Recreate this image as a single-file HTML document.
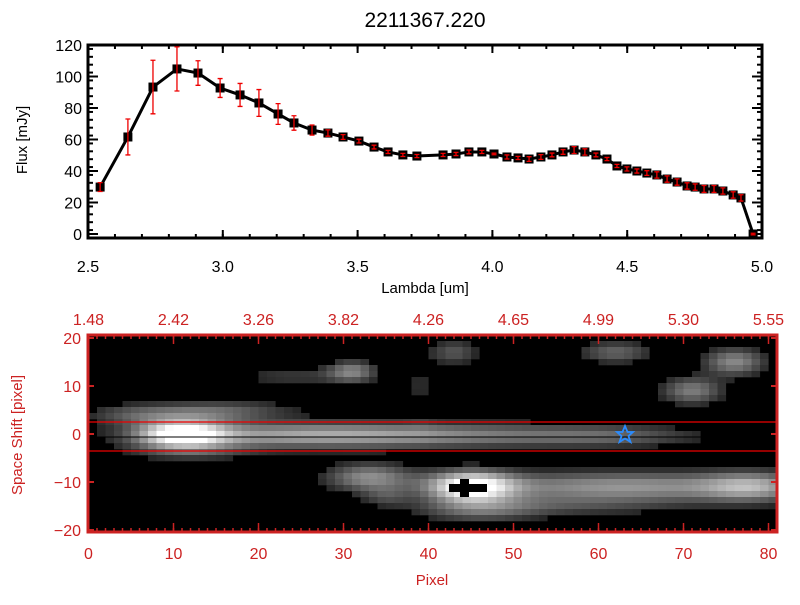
<!DOCTYPE html>
<html><head><meta charset="utf-8">
<style>
html,body{margin:0;padding:0;background:#fff;}
body{width:800px;height:600px;overflow:hidden;font-family:"Liberation Sans",sans-serif;}
svg text{font-family:"Liberation Sans",sans-serif;}
</style></head>
<body>
<svg id="chart" width="800" height="600" viewBox="0 0 800 600">
<rect width="800" height="600" fill="#fff"/>
<text x="425" y="27" text-anchor="middle" font-size="21" fill="#000">2211367.220</text>
<g id="top"></g>
<g id="bot"></g>
</svg>
<script>
const lambdas=[2.545,2.648,2.741,2.83,2.908,2.99,3.064,3.134,3.205,3.264,3.331,3.39,3.446,3.505,3.561,3.613,3.668,3.72,3.817,3.865,3.913,3.961,4.006,4.054,4.095,4.136,4.18,4.221,4.262,4.303,4.343,4.384,4.425,4.462,4.499,4.536,4.573,4.61,4.648,4.685,4.722,4.752,4.785,4.822,4.855,4.893,4.922,4.967];
const fluxes=[29.8,61.6,93.3,104.8,102.2,92.7,88.3,83.2,76.2,70.5,66,64.1,61.6,59,55.2,52.1,50.2,49.5,50.2,50.8,52.1,52.1,50.8,48.9,48.3,47.6,48.9,50.2,52.1,53.3,52.1,50.2,47.6,43.2,41.3,40,38.7,37.5,34.9,33,30.5,29.8,28.6,28.6,27.3,24.8,22.9,0];
const errors=[2.8,11.4,17,14,7.8,6,7.3,8.5,6.6,4.6,3.2,2,1.5,1.2,1.2,1,1,1,1,1,1.2,1,0.5,1.3,1,1.5,1.5,1.2,1.5,2.2,2,1.2,1,1,1.3,1.3,1.5,2,2,2,2,2,2.2,2.2,2,2,2,0.5];
const xTicks=[2.5,3.0,3.5,4.0,4.5,5.0];
const xTickLabels=["2.5","3.0","3.5","4.0","4.5","5.0"];
const yTicks=[0,20,40,60,80,100,120];
const pixTicks=[0,10,20,30,40,50,60,70,80];
const lamTopLabels=["1.48","2.42","3.26","3.82","4.26","4.65","4.99","5.30","5.55"];
const shiftTicks=[-20,-10,0,10,20];

const NS="http://www.w3.org/2000/svg";
function mk(parent,tag,attrs,txt){const e=document.createElementNS(NS,tag);for(const k in attrs)e.setAttribute(k,attrs[k]);if(txt!==undefined)e.textContent=txt;parent.appendChild(e);return e;}

// ---- top panel
const T=document.getElementById('top');
const L=88,R=762,TT=45,TB=238;
const xs=v=>L+(v-2.5)/2.5*(R-L);
const ys=v=>234-v*1.575;
let g=mk(T,'g',{});


for(let v=2.5;v<=5.001;v+=0.1){const x=xs(v);mk(g,'line',{x1:x,x2:x,y1:TB,y2:TB-4,stroke:'#000','stroke-width':2});mk(g,'line',{x1:x,x2:x,y1:TT,y2:TT+4,stroke:'#000','stroke-width':2});}
for(let v=-2.5;v<=120.1;v+=5){if(v<-2)continue;const y=ys(v);mk(g,'line',{x1:L,x2:L+5,y1:y,y2:y,stroke:'#000','stroke-width':2});mk(g,'line',{x1:R,x2:R-5,y1:y,y2:y,stroke:'#000','stroke-width':2});}
xTicks.forEach((v,i)=>{const x=xs(v);mk(g,'line',{x1:x,x2:x,y1:TB,y2:TB-8,stroke:'#000','stroke-width':2});mk(g,'line',{x1:x,x2:x,y1:TT,y2:TT+8,stroke:'#000','stroke-width':2});
 const t=mk(g,'text',{x:x,y:272,'text-anchor':'middle','font-size':16,fill:'#000'},xTickLabels[i]);
 
 });
yTicks.forEach(v=>{const y=ys(v);mk(g,'line',{x1:L,x2:L+10,y1:y,y2:y,stroke:'#000','stroke-width':2});mk(g,'line',{x1:R,x2:R-10,y1:y,y2:y,stroke:'#000','stroke-width':2});
 const t=mk(g,'text',{x:82,y:y+6,'text-anchor':'end','font-size':16,fill:'#000'},String(v));
 
 });
mk(g,'rect',{x:L,y:TT,width:R-L,height:TB-TT,fill:'none',stroke:'#000','stroke-width':3});
let xt=mk(T,'text',{x:425,y:293,'text-anchor':'middle','font-size':15,fill:'#000'},'Lambda [um]');


let yt=mk(T,'text',{x:0,y:0,'text-anchor':'middle','font-size':15,fill:'#000',transform:'translate(27,140) rotate(-90)'},'Flux [mJy]');


const line=mk(T,'polyline',{points:lambdas.map((l,i)=>xs(l)+','+ys(fluxes[i])).join(' '),fill:'none',stroke:'#000','stroke-width':3});


lambdas.forEach((l,i)=>{const x=xs(l),y=ys(fluxes[i]);
 const r=mk(T,'rect',{x:x-4.5,y:y-4.5,width:9,height:9,fill:'#000'});
 
 
 const e=errors[i]*1.575;
 const eb=mk(T,'path',{d:`M${x},${y-e}V${y+e}M${x-2.5},${y-e}H${x+2.5}M${x-2.5},${y+e}H${x+2.5}`,stroke:'#e00','stroke-width':1.3,fill:'none'});
 
 });

// ---- bottom panel
const B=document.getElementById('bot');
const BL=88,BR=777,BT=335,BB=532;
const RED='#cc2222';
const px=v=>88.5+v*8.5;
const sy=v=>434-v*4.8;
const img=mk(B,'g',{});


mk(img,'rect',{x:BL,y:BT,width:BR-BL,height:BB-BT,fill:'#000'});
const blobs=[
 [11,0,3.5,1.8,1.0],[24,-0.3,12,1.9,0.5],[45,-0.3,14,1.8,0.36],[62,-0.5,7,1.6,0.2],[12,-3.5,5,1.5,0.25],[12,4,5,1.5,0.25],
 [45,-11,3.5,2.2,1.0],[63,-11,13,2.2,0.55],[78,-11,4,2.2,0.45],[33,-9,3.5,2,0.5],[46,-16,5,1.8,0.3],[56,-15,10,1.5,0.2],
 [76,15,2.5,2,0.5],[71,9,2.5,2,0.45],[62,17,3,1.6,0.35],[31,13,2,1.6,0.45],[43,17,2,1.8,0.3],
 [17,5,6,1.5,0.22],[5,4,4,1.6,0.22],[39,10,1.2,5,0.14],[24,12,5,1.5,0.18],[35,-13,2,1.5,0.2]];
const rowH=4.8*1.25;
for(let c=0;c<81;c++){for(let r=0;r<33;r++){
 const yv=20.6-(r+0.5)*1.25, xv=c+0.5;
 let s=0;blobs.forEach(b=>{s+=b[4]*Math.exp(-((xv-b[0])**2)/(2*b[2]*b[2])-((yv-b[1])**2)/(2*b[3]*b[3]));});
 if(s<0.12)continue;s=Math.min(1,s);
 const gv=Math.round(255*Math.pow(s,0.9));
 const y0=BT+r*rowH;const h=Math.min(rowH,BB-y0);if(h<=0)continue;
 mk(img,'rect',{x:px(c),y:y0,width:8.6,height:h+0.3,fill:`rgb(${gv},${gv},${gv})`});}}
mk(B,'line',{x1:BL,x2:BR,y1:422,y2:422,stroke:'#e00','stroke-width':1.3});
mk(B,'line',{x1:BL,x2:BR,y1:451,y2:451,stroke:'#e00','stroke-width':1.3});
mk(B,'line',{x1:BL,x2:BR,y1:437,y2:437,stroke:'#000','stroke-width':1});
const cr=mk(B,'path',{d:'M449,484h38v8h-38zM460,479h9v18h-9z',fill:'#000'});


const st=mk(B,'path',{d:'M625,426 L627.5,432 L633,432 L628.5,436 L630.5,442 L625,438.5 L619.5,442 L621.5,436 L617,432 L622.5,432 Z',fill:'none',stroke:'#2a8cff','stroke-width':1.8});


const ga=mk(B,'g',{});


for(let v=0;v<=81;v++){const x=px(v);mk(ga,'line',{x1:x,x2:x,y1:BB,y2:BB-4,stroke:RED,'stroke-width':1.5});mk(ga,'line',{x1:x,x2:x,y1:BT,y2:BT+4,stroke:RED,'stroke-width':1.5});}
pixTicks.forEach((v,i)=>{const x=px(v);mk(ga,'line',{x1:x,x2:x,y1:BB,y2:BB-9,stroke:RED,'stroke-width':1.5});mk(ga,'line',{x1:x,x2:x,y1:BT,y2:BT+9,stroke:RED,'stroke-width':1.5});
 const t=mk(ga,'text',{x:x,y:559,'text-anchor':'middle','font-size':16,fill:RED},String(v));
 
 
 const t2=mk(ga,'text',{x:x,y:325,'text-anchor':'middle','font-size':16,fill:RED},lamTopLabels[i]);
 
 });
shiftTicks.forEach(v=>{const y=sy(v);mk(ga,'line',{x1:BL,x2:BL+6,y1:y,y2:y,stroke:RED,'stroke-width':2});mk(ga,'line',{x1:BR,x2:BR-6,y1:y,y2:y,stroke:RED,'stroke-width':2});
 const t=mk(ga,'text',{x:81,y:y+6,'text-anchor':'end','font-size':16,fill:RED},String(v).replace('-','−'));
 
 });
mk(ga,'rect',{x:BL,y:BT,width:BR-BL,height:BB-BT,fill:'none',stroke:RED,'stroke-width':3});
let pt=mk(B,'text',{x:432,y:585,'text-anchor':'middle','font-size':15,fill:RED},'Pixel');


let st2=mk(B,'text',{x:0,y:0,'text-anchor':'middle','font-size':15,fill:RED,transform:'translate(22,435) rotate(-90)'},'Space Shift [pixel]');


</script>
</body></html>
